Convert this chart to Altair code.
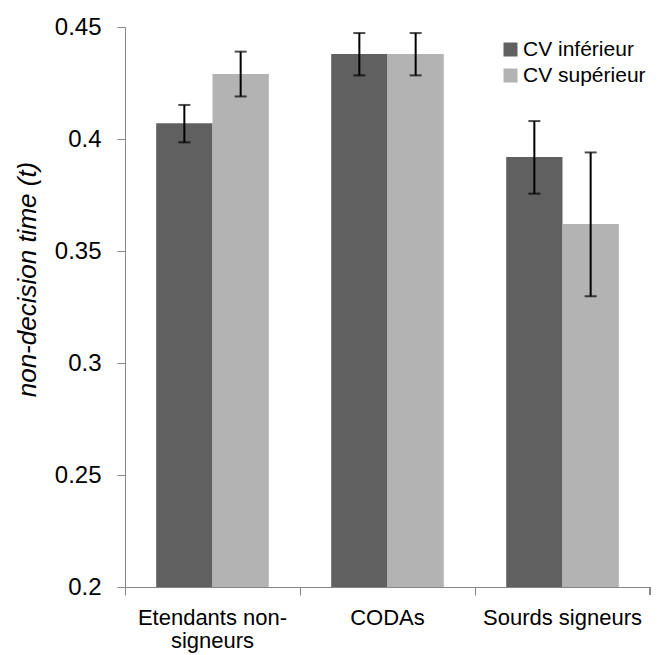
import altair as alt
import pandas as pd

groups = ["Etendants non-signeurs", "CODAs", "Sourds signeurs"]
series = ["CV inférieur", "CV supérieur"]
mean_low = [0.407, 0.438, 0.392]
mean_high = [0.429, 0.438, 0.362]
low_err_lo = [0.3985, 0.4284, 0.3756]
low_err_hi = [0.4152, 0.4473, 0.408]
high_err_lo = [0.419, 0.4284, 0.3298]
high_err_hi = [0.439, 0.4473, 0.394]
y_ticks = [0.2, 0.25, 0.3, 0.35, 0.4, 0.45]
colors = ["#606060", "#b3b3b3"]

rows = []
for i, g in enumerate(groups):
    rows.append({"group": g, "series": series[0], "value": mean_low[i],
                 "lo": low_err_lo[i], "hi": low_err_hi[i]})
    rows.append({"group": g, "series": series[1], "value": mean_high[i],
                 "lo": high_err_lo[i], "hi": high_err_hi[i]})
df = pd.DataFrame(rows)

FONT = "Liberation Sans"
AXIS_COLOR = "#868686"

x_enc = alt.X(
    "group:N",
    sort=groups,
    scale=alt.Scale(paddingInner=0, paddingOuter=0),
    axis=alt.Axis(
        title=None,
        bandPosition=0,
        labelAngle=0,
        labelFontSize=22,
        labelFont=FONT,
        labelColor="black",
        labelPadding=12,
        labelLineHeight=23,
        tickSize=8,
        tickColor=AXIS_COLOR,
        domainColor=AXIS_COLOR,
        labelExpr="datum.value == 'Etendants non-signeurs' ? ['Etendants non-', 'signeurs'] : datum.value",
    ),
)
xoff = alt.XOffset("series:N", sort=series,
                   scale=alt.Scale(paddingInner=0, paddingOuter=0.554))

y_scale = alt.Scale(domain=[0.2, 0.45], zero=False, nice=False)

bars = alt.Chart(df).mark_bar().encode(
    x=x_enc,
    xOffset=xoff,
    y=alt.Y(
        "value:Q",
        scale=y_scale,
        axis=alt.Axis(
            values=y_ticks,
            format=".2~f",
            grid=False,
            title="non-decision time (t)",
            titleFont=FONT,
            titleFontStyle="italic",
            titleFontWeight="normal",
            titleFontSize=26,
            titleColor="black",
            titleAngle=270,
            titleX=-98,
            titleY=252,
            titleAlign="center",
            titleBaseline="middle",
            labelFontSize=24,
            labelFont=FONT,
            labelColor="black",
            labelPadding=16,
            tickSize=8,
            tickColor=AXIS_COLOR,
            domainColor=AXIS_COLOR,
        ),
    ),
    y2=alt.datum(0.2),
    color=alt.Color(
        "series:N",
        sort=series,
        scale=alt.Scale(domain=series, range=colors),
        legend=alt.Legend(
            title=None,
            orient="none",
            legendX=375,
            legendY=12,
            symbolType="square",
            symbolSize=196,
            symbolStrokeWidth=0,
            labelFont=FONT,
            labelFontSize=21,
            labelColor="black",
            labelOffset=2,
            rowPadding=4,
            padding=0,
        ),
    ),
)

rules = alt.Chart(df).mark_rule(color="black", strokeWidth=2).encode(
    x=alt.X("group:N", sort=groups),
    xOffset=alt.XOffset("series:N", sort=series),
    y=alt.Y("lo:Q", scale=y_scale),
    y2="hi:Q",
)

caps_lo = alt.Chart(df).mark_tick(color="black", thickness=2, size=12, orient="horizontal").encode(
    x=alt.X("group:N", sort=groups),
    xOffset=alt.XOffset("series:N", sort=series),
    y=alt.Y("lo:Q", scale=y_scale),
)
caps_hi = alt.Chart(df).mark_tick(color="black", thickness=2, size=12, orient="horizontal").encode(
    x=alt.X("group:N", sort=groups),
    xOffset=alt.XOffset("series:N", sort=series),
    y=alt.Y("hi:Q", scale=y_scale),
)

end_tick = alt.Chart(df).mark_rule(color=AXIS_COLOR, strokeWidth=1).encode(
    x=alt.value(525), y=alt.value(560), y2=alt.value(568)
)

chart = alt.layer(bars, rules, caps_lo, caps_hi, end_tick).properties(
    width=525,
    height=560,
    autosize=alt.AutoSizeParams(type="none"),
    padding={"left": 117, "top": 19, "right": 7, "bottom": 68},
).configure_view(stroke=None).configure_axis(domainWidth=1, tickWidth=1)

chart.save("out.html", embed_options={"renderer": "svg", "actions": False})
